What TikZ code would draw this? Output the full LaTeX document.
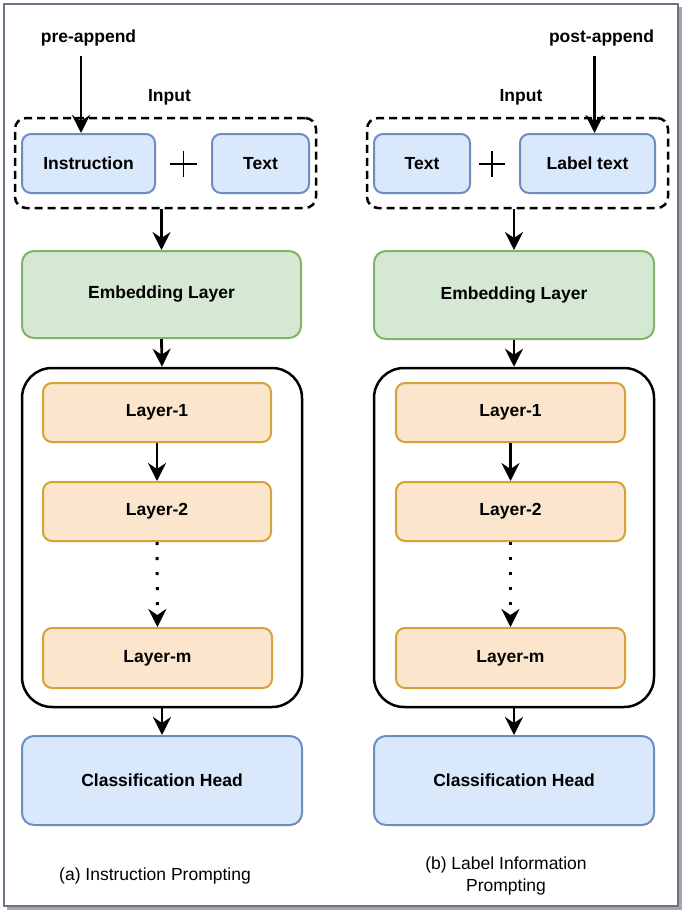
\documentclass[tikz,border=0pt]{standalone}
\usepackage{fontspec}
\setmainfont{Liberation Sans}
\usetikzlibrary{arrows.meta,shapes,positioning}

\definecolor{blueF}{HTML}{DAE8FC}
\definecolor{blueD}{HTML}{6C8EBF}
\definecolor{greenF}{HTML}{D5E8D4}
\definecolor{greenD}{HTML}{82B366}
\definecolor{orangeF}{HTML}{FBE6CD}
\definecolor{orangeD}{HTML}{D6A236}
\definecolor{frameD}{HTML}{6B7385}

\begin{document}
\begin{tikzpicture}[x=1pt,y=-1pt,
  every node/.style={inner sep=0pt,font=\fontsize{17.5}{22}\selectfont},
  blk/.style={draw=blueD,fill=blueF,line width=2pt,rounded corners=9pt,font=\fontsize{17.5}{22}\selectfont\bfseries},
  emb/.style={draw=greenD,fill=greenF,line width=2pt,rounded corners=12pt,font=\fontsize{17.5}{22}\selectfont\bfseries},
  lay/.style={draw=orangeD,fill=orangeF,line width=2pt,rounded corners=9pt,font=\fontsize{17.5}{22}\selectfont\bfseries},
  grp/.style={draw=black,line width=2.5pt,dash pattern=on 8pt off 5pt,rounded corners=11pt},
  stack/.style={draw=black,line width=2.5pt,rounded corners=30pt},
  lbl/.style={font=\fontsize{17.5}{22}\selectfont\bfseries},
  arr/.style={line width=2.8pt,-{Stealth[length=18pt,width=18pt,inset=6pt]}},
  dots/.style={line width=3pt,dash pattern=on 3pt off 12pt,-{Stealth[length=18pt,width=18pt,inset=6pt]}}]
\useasboundingbox (0,0) rectangle (686,914);
\fill [black!35] (7,7) rectangle (682,910);
\draw [frameD,fill=white,line width=2pt] (4,4) rectangle (678,906);

% (a) instruction prompting
\node [lbl] (preA) at (88.5,38) {pre-append};
\node [lbl] (inA) at (169.5,97) {Input};
\node [grp,minimum width=301pt,minimum height=90pt] (inpA) at (165.5,163) {};
\node [blk,minimum width=133pt,minimum height=59pt] (instrA) at (88.5,163.5) {Instruction};
\node [blk,minimum width=97pt,minimum height=59pt] (textA) at (260.5,163.5) {Text};
\node [minimum size=26pt] (plusA) at (183.5,164) {};
\draw [line width=1.3pt] (plusA.north) -- (plusA.south) (plusA.west) -- (plusA.east);
\node [emb,minimum width=279pt,minimum height=87pt] (embA) at (161.5,294.5) {Embedding Layer};
\node [stack,minimum width=280pt,minimum height=339pt] (stackA) at (162,537.5) {};
\node [lay,minimum width=228pt,minimum height=59pt] (l1A) at (157,412.5) {Layer-1};
\node [lay,minimum width=228pt,minimum height=59pt] (l2A) at (157,511.5) {Layer-2};
\node [lay,minimum width=229pt,minimum height=60pt] (lmA) at (157.5,658) {Layer-m};
\node [blk,minimum width=280pt,minimum height=89pt,rounded corners=12pt] (clsA) at (162,780.5) {Classification Head};
\node (capA) at (155,876) {(a) Instruction Prompting};

\draw [arr] ([xshift=-7.5pt,yshift=-10pt]preA.south) -- ([xshift=-7.5pt]instrA.north);
\draw [arr] (embA.north |- inpA.south) -- (embA.north);
\draw [arr] (embA.south) -- (stackA.north);
\draw [arr] (l1A) -- (l2A);
\draw [dots] (l2A) -- (lmA);
\draw [arr] (stackA.south) -- (clsA.north);

% (b) label information prompting
\node [lbl] (postB) at (601.5,38) {post-append};
\node [lbl] (inB) at (521,97) {Input};
\node [grp,minimum width=301pt,minimum height=90pt] (inpB) at (517.5,163) {};
\node [blk,minimum width=96pt,minimum height=59pt] (textB) at (422,163.5) {Text};
\node [blk,minimum width=135pt,minimum height=59pt] (lblB) at (587.5,163.5) {Label text};
\node [minimum size=26pt] (plusB) at (492,164) {};
\draw [line width=1.3pt] (plusB.north) -- (plusB.south) (plusB.west) -- (plusB.east);
\node [emb,minimum width=280pt,minimum height=88pt] (embB) at (514,295) {Embedding Layer};
\node [stack,minimum width=280pt,minimum height=339pt] (stackB) at (514,537.5) {};
\node [lay,minimum width=229pt,minimum height=59pt] (l1B) at (510.5,412.5) {Layer-1};
\node [lay,minimum width=229pt,minimum height=59pt] (l2B) at (510.5,511.5) {Layer-2};
\node [lay,minimum width=229pt,minimum height=60pt] (lmB) at (510.5,658) {Layer-m};
\node [blk,minimum width=280pt,minimum height=89pt,rounded corners=12pt] (clsB) at (514,780.5) {Classification Head};
\node [align=center] (capB) at (506,876) {(b) Label Information\\Prompting};

\draw [arr] ([xshift=-7pt,yshift=-10pt]postB.south) -- ([xshift=7pt]lblB.north);
\draw [arr] (embB.north |- inpB.south) -- (embB.north);
\draw [arr] (embB.south) -- (stackB.north);
\draw [arr] (l1B) -- (l2B);
\draw [dots] (l2B) -- (lmB);
\draw [arr] (stackB.south) -- (clsB.north);
\end{tikzpicture}
\end{document}
